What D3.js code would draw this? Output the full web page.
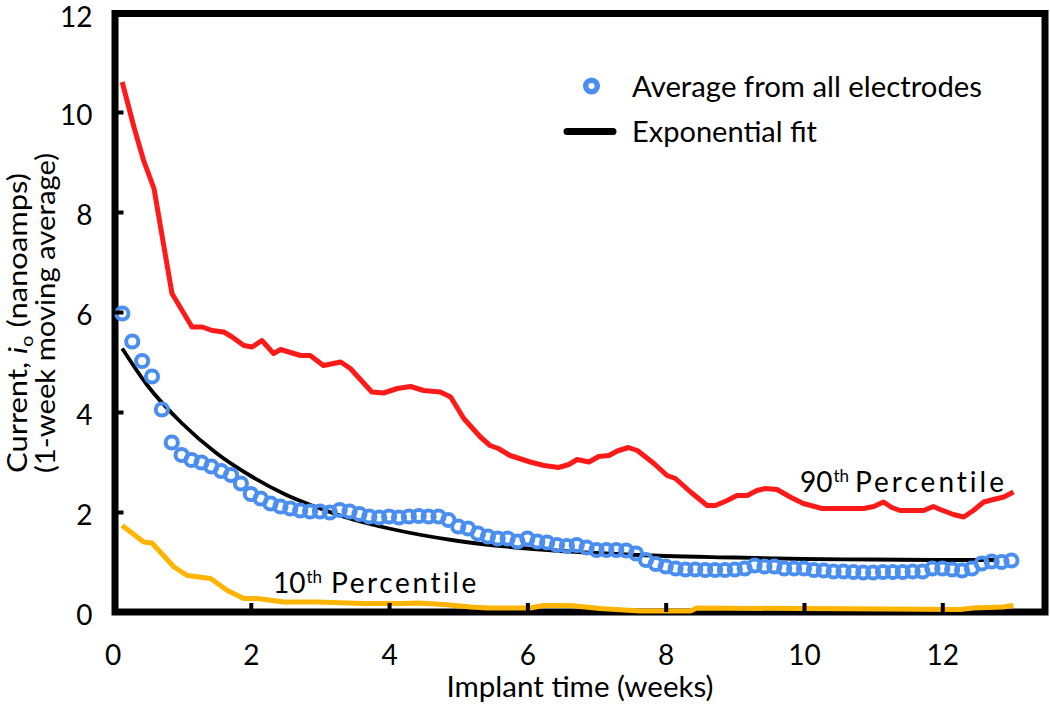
<!DOCTYPE html>
<html><head><meta charset="utf-8">
<script src="https://cdn.jsdelivr.net/npm/d3@7"></script>
<style>
body{margin:0;background:#fff}
svg{display:block}
text{font-family:Lato,"Open Sans",sans-serif;fill:#000}
</style>
</head><body><svg id="c" width="1050" height="706"></svg>
<script>
// ---- data ----
const xTicks = [0, 2, 4, 6, 8, 10, 12];
const yTicks = [0, 2, 4, 6, 8, 10, 12];
// daily average points, day 1..91 (week = day/7)
const avgDays = d3.range(1, 92);
const avgValues = [5.97,5.41,5.02,4.71,4.05,3.39,3.14,3.04,2.99,2.91,
  2.82,2.74,2.57,2.36,2.27,2.17,2.11,2.07,2.03,2.01,
  2.01,1.99,2.04,2.01,1.96,1.91,1.89,1.91,1.89,1.91,
  1.92,1.91,1.91,1.84,1.71,1.67,1.57,1.51,1.47,1.47,
  1.41,1.47,1.41,1.39,1.34,1.32,1.34,1.29,1.24,1.24,
  1.24,1.23,1.17,1.04,0.96,0.91,0.87,0.85,0.85,0.84,
  0.84,0.84,0.85,0.87,0.93,0.91,0.91,0.87,0.87,0.87,
  0.84,0.83,0.81,0.81,0.80,0.79,0.79,0.80,0.80,0.80,
  0.81,0.81,0.87,0.87,0.85,0.83,0.87,0.97,1.01,1.00,1.03];
const fitWeeks  = [0.14,0.5,1.0,1.5,2.0,2.5,3.0,3.5,4.0,5.0,6.0,7.0,8.0,9.0,10.0,11.0,12.0,12.8];
const fitValues = [5.27,4.54,3.78,3.18,2.72,2.35,2.07,1.84,1.67,1.42,1.27,1.18,1.12,1.09,1.06,1.05,1.04,1.04];
const p90Weeks  = [0.14,0.31,0.45,0.60,0.86,1.15,1.30,1.44,1.61,1.73,1.90,2.02,2.16,2.33,2.43,2.72,2.86,3.05,3.30,3.44,
  3.75,3.92,4.12,4.31,4.50,4.74,4.89,5.08,5.32,5.46,5.58,5.75,6.04,6.24,6.45,6.60,6.72,6.89,7.03,7.18,
  7.30,7.46,7.59,7.83,8.02,8.14,8.36,8.60,8.72,8.89,9.03,9.18,9.32,9.44,9.61,9.80,9.99,10.26,10.52,10.86,
  11.01,11.15,11.27,11.39,11.73,11.87,11.97,12.16,12.31,12.45,12.60,12.74,12.89,13.03];
const p90Values = [10.6,9.7,9.03,8.47,6.37,5.70,5.70,5.63,5.60,5.50,5.33,5.30,5.43,5.17,5.25,5.13,5.13,4.93,5.00,4.87,
  4.40,4.38,4.47,4.51,4.43,4.40,4.30,3.87,3.50,3.33,3.27,3.13,3.00,2.93,2.89,2.95,3.05,3.00,3.11,3.13,
  3.22,3.29,3.23,2.97,2.73,2.67,2.40,2.13,2.13,2.23,2.33,2.33,2.43,2.47,2.45,2.30,2.17,2.07,2.07,2.07,
  2.11,2.20,2.09,2.03,2.03,2.11,2.05,1.95,1.90,2.03,2.20,2.25,2.30,2.40];
const p10Weeks  = [0.14,0.45,0.57,0.89,1.08,1.42,1.66,1.90,2.09,2.48,2.96,3.63,4.21,4.41,4.79,5.18,5.42,6.04,6.24,6.62,
  7.05,7.63,8.36,8.45,12.26,12.45,12.88,13.03];
const p10Values = [1.73,1.40,1.38,0.90,0.73,0.67,0.43,0.27,0.27,0.20,0.20,0.17,0.17,0.18,0.15,0.10,0.08,0.08,0.13,0.13,
  0.07,0.02,0.02,0.08,0.05,0.08,0.10,0.13];

// ---- layout ----
const svg = d3.select("#c");
const x = d3.scaleLinear().domain([0, 13.5]).range([112.5, 1046]);
const y = d3.scaleLinear().domain([0, 12]).range([612, 12]);

// frame
svg.append("rect")
  .attr("x", x(0) + 2.5).attr("y", y(12) + 1.5)
  .attr("width", x(13.5) - x(0) - 3.5).attr("height", y(0) - y(12) - 1.5)
  .attr("fill", "none").attr("stroke", "#000").attr("stroke-width", 7);

const line = d3.line().x(d => x(d[0])).y(d => y(d[1]));

// 90th percentile
svg.append("path").datum(d3.zip(p90Weeks, p90Values))
  .attr("d", line).attr("fill", "none").attr("stroke", "#ff1a1a")
  .attr("stroke-width", 5).attr("stroke-linejoin", "round");
// 10th percentile
svg.append("path").datum(d3.zip(p10Weeks, p10Values))
  .attr("d", line).attr("fill", "none").attr("stroke", "#ffb400")
  .attr("stroke-width", 5).attr("stroke-linejoin", "round");
// exponential fit
svg.append("path").datum(d3.zip(fitWeeks, fitValues))
  .attr("d", line.curve(d3.curveMonotoneX)).attr("fill", "none").attr("stroke", "#000")
  .attr("stroke-width", 3.8);

// average points
svg.append("g").selectAll("circle").data(d3.zip(avgDays, avgValues)).join("circle")
  .attr("cx", d => x(d[0] / 7)).attr("cy", d => y(d[1])).attr("r", 6.1)
  .attr("fill", "none").attr("stroke", "#4a8ff0").attr("stroke-width", 4);

// axes (inward ticks)
const ax = svg.append("g").attr("transform", `translate(0,${y(0)})`)
  .call(d3.axisBottom(x).tickValues(xTicks).tickSize(-9).tickPadding(33).tickFormat(d3.format("d")));
const ay = svg.append("g").attr("transform", `translate(${x(0)},0)`)
  .call(d3.axisLeft(y).tickValues(yTicks).tickSize(-11).tickPadding(20).tickFormat(d3.format("d")));
[ax, ay].forEach(g => {
  g.select(".domain").remove();
  g.selectAll(".tick line").attr("stroke", "#000").attr("stroke-width", 4);
  g.selectAll(".tick text").attr("font-size", 28).attr("font-family", "Lato, 'Open Sans', sans-serif").attr("fill", "#000");
});
ay.selectAll(".tick text").attr("dy", d => d === 12 ? "0.5em" : "0.45em");
ax.selectAll(".tick").filter(d => d === 0).select("line").remove();
ay.selectAll(".tick").filter(d => d === 0 || d === 12).select("line").remove();

// axis titles
svg.append("text").attr("x", 580).attr("y", 697).attr("text-anchor", "middle")
  .attr("font-size", 28).attr("textLength", 267).attr("lengthAdjust", "spacingAndGlyphs")
  .text("Implant time (weeks)");

const t1 = svg.append("text").attr("transform", "translate(27,323) rotate(-90)")
  .attr("text-anchor", "middle").attr("font-size", 26)
  .attr("textLength", 300).attr("lengthAdjust", "spacingAndGlyphs");
t1.append("tspan").text("Current, ");
t1.append("tspan").attr("font-style", "italic").text("i");
t1.append("tspan").attr("font-size", 17).attr("dy", 6).text("o");
t1.append("tspan").attr("dy", -6).text(" (nanoamps)");

svg.append("text").attr("transform", "translate(55,313) rotate(-90)")
  .attr("text-anchor", "middle").attr("font-size", 26)
  .attr("textLength", 320).attr("lengthAdjust", "spacingAndGlyphs")
  .text("(1-week moving average)");

// legend
svg.append("circle").attr("cx", 591.5).attr("cy", 86).attr("r", 5.8)
  .attr("fill", "none").attr("stroke", "#4a8ff0").attr("stroke-width", 5.5);
svg.append("text").attr("x", 632).attr("y", 97).attr("font-size", 28)
  .attr("textLength", 350).attr("lengthAdjust", "spacingAndGlyphs").text("Average from all electrodes");
svg.append("line").attr("x1", 567).attr("x2", 613).attr("y1", 131.5).attr("y2", 131.5)
  .attr("stroke", "#000").attr("stroke-width", 7).attr("stroke-linecap", "round");
svg.append("text").attr("x", 632).attr("y", 142).attr("font-size", 28)
  .attr("textLength", 185).attr("lengthAdjust", "spacingAndGlyphs").text("Exponential fit");

// percentile labels (single text element each)
function pctLabel(xn, xp, by, num, ls) {
  const t = svg.append("text").attr("x", xn).attr("y", by).attr("font-size", 28);
  t.append("tspan").text(num);
  t.append("tspan").attr("font-size", 17).attr("dy", -10).attr("dx", 1).text("th");
  t.append("tspan").attr("x", xp).attr("dy", 10).attr("letter-spacing", ls).text("Percentile");
}
pctLabel(800, 855, 492, "90", 3.0);
pctLabel(273, 331, 593, "10", 2.6);
</script>
</body></html>
